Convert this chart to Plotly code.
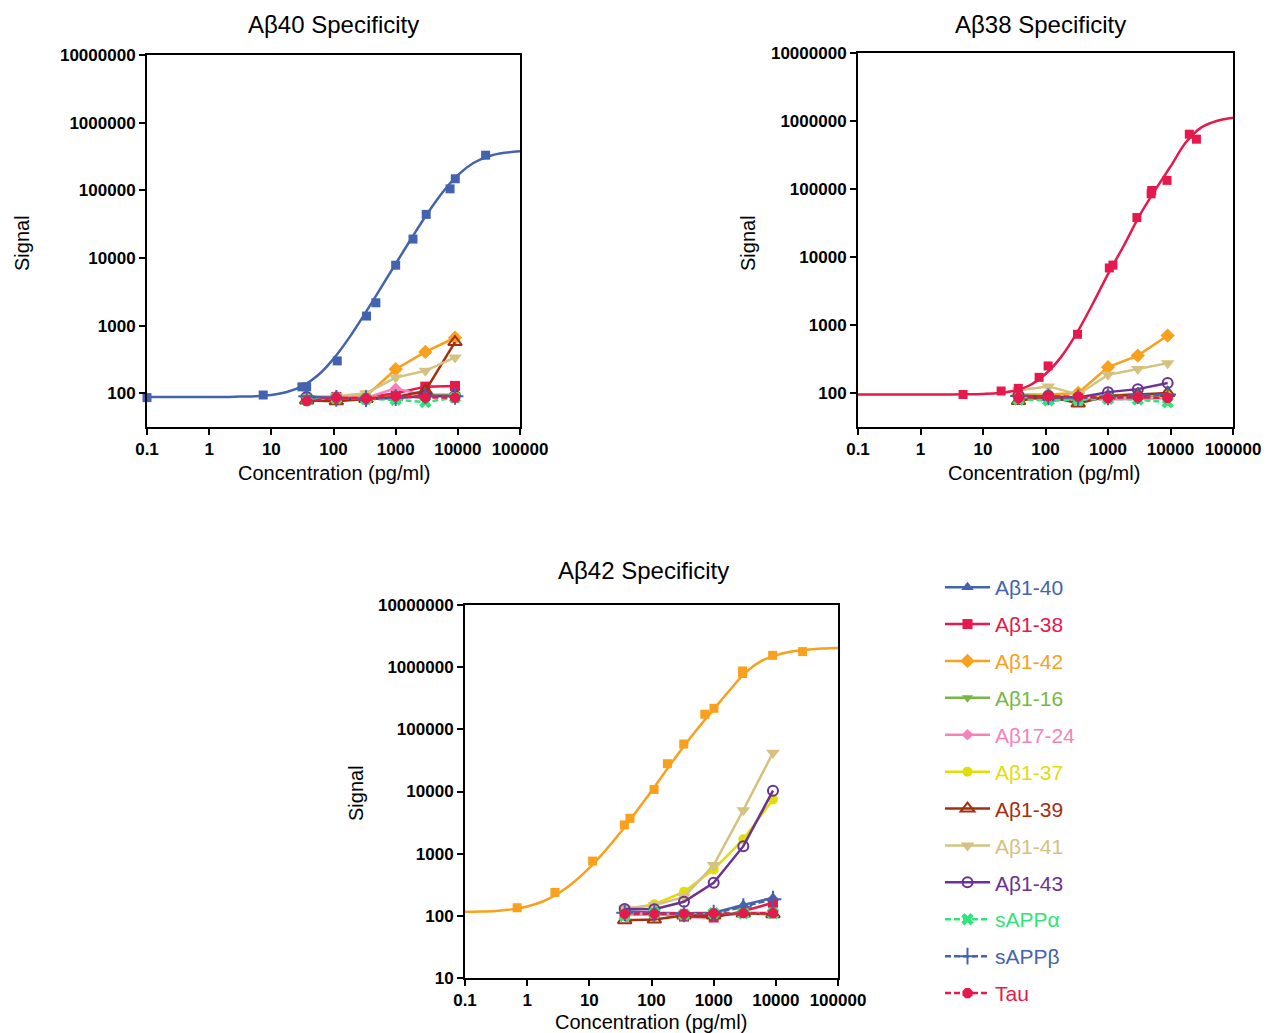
import plotly.graph_objects as go

FONT = "Liberation Sans, Arial, Helvetica, sans-serif"
W, H = 1266, 1033

# ---------------------------------------------------------------- data
# Concentrations (pg/ml) at which every non-target peptide was tested
cross_conc = [37, 111, 333, 1000, 3000, 9000]

# Grid used for the fitted standard curves (pg/ml)
curve_conc = [0.1, 0.178, 0.316, 0.562, 1, 1.78, 3.16, 5.62, 10, 17.8, 31.6, 56.2,
              100, 178, 316, 562, 1000, 1778, 3162, 5623, 10000, 17783, 31623, 56234, 100000]

# --- Aβ40 assay
ab40_std_conc = [0.1, 7.4, 31, 37, 115, 340, 480, 1000, 1900, 3100, 7500, 9100, 28000]
ab40_std_signal = [86, 94, 124, 124, 300, 1380, 2170, 7800, 19000, 44000, 105000, 148000, 330000]
ab40_fit = [88, 88, 88, 88, 88, 88, 89, 90, 94, 104, 127, 184, 322, 657, 1470, 3450, 8190,
            19200, 43800, 92000, 167600, 252700, 319000, 357400, 376000]
ab40_cross = {
    "Aβ1-38": [84, 88, 86, 100, 125, 128],
    "Aβ1-42": [88, 88, 90, 226, 407, 660],
    "Aβ1-16": [84, 85, 84, 88, 95, 95],
    "Aβ17-24": [86, 88, 85, 118, 92, 90],
    "Aβ1-37": [76, 80, 83, 88, 90, 92],
    "Aβ1-39": [78, 76, 82, 88, 108, 570],
    "Aβ1-41": [88, 90, 100, 170, 214, 338],
    "Aβ1-43": [88, 85, 82, 85, 90, 92],
    "sAPPα": [80, 84, 82, 80, 74, 86],
    "sAPPβ": [90, 84, 83, 86, 92, 90],
    "Tau": [76, 86, 84, 90, 86, 86],
}

# --- Aβ38 assay
ab38_std_conc = [4.8, 19.5, 36.7, 79, 110, 325, 1050, 1200, 2900, 4900, 5000, 8800, 20000, 26000]
ab38_std_signal = [95, 107, 117, 170, 250, 730, 6900, 7600, 38000, 85000, 95000, 134000, 640000, 540000]
ab38_fit = [95, 95, 95, 95, 95, 95, 95, 95.5, 97, 100, 108, 130, 190, 340, 760, 2000, 5600,
            14500, 40000, 95000, 214000, 490000, 813000, 1010000, 1120000]
ab38_cross = {
    "Aβ1-40": [95, 76, 85, 92, 95, 95],
    "Aβ1-42": [95, 95, 100, 240, 355, 700],
    "Aβ1-16": [85, 88, 82, 88, 90, 92],
    "Aβ17-24": [88, 85, 82, 80, 82, 84],
    "Aβ1-37": [95, 90, 85, 90, 95, 96],
    "Aβ1-39": [76, 90, 70, 90, 95, 100],
    "Aβ1-41": [110, 125, 95, 185, 225, 275],
    "Aβ1-43": [92, 90, 86, 103, 114, 140],
    "sAPPα": [80, 78, 80, 82, 80, 73],
    "sAPPβ": [90, 88, 85, 88, 92, 95],
    "Tau": [85, 90, 88, 85, 86, 85],
}

# --- Aβ42 assay
ab42_std_conc = [0.69, 2.8, 11.3, 36.6, 45, 110, 180, 330, 720, 1010, 2930, 2930, 8900, 27000]
ab42_std_signal = [135, 238, 760, 2900, 3700, 10800, 28000, 58000, 175000, 218000, 790000, 870000,
                   1550000, 1780000]
ab42_fit = [116, 117, 120, 127, 141, 170, 229, 347, 589, 1100, 2190, 4680, 10200, 22900, 50100,
            105000, 209000, 417000, 794000, 1230000, 1550000, 1780000, 1910000, 2000000, 2040000]
ab42_cross = {
    "Aβ1-40": [118, 112, 110, 112, 150, 195],
    "Aβ1-38": [109, 109, 97, 94, 119, 162],
    "Aβ1-16": [105, 105, 102, 105, 110, 110],
    "Aβ17-24": [110, 108, 104, 104, 112, 112],
    "Aβ1-37": [126, 154, 243, 557, 1700, 7460],
    "Aβ1-39": [85, 87, 101, 101, 109, 106],
    "Aβ1-41": [131, 148, 202, 655, 5000, 42200],
    "Aβ1-43": [129, 128, 168, 340, 1320, 10300],
    "sAPPα": [100, 110, 105, 110, 110, 110],
    "sAPPβ": [112, 110, 108, 110, 140, 185],
    "Tau": [108, 108, 108, 110, 110, 110],
}

x_tickvals = [0.1, 1, 10, 100, 1000, 10000, 100000]
x_ticktext = ["0.1", "1", "10", "100", "1000", "10000", "100000"]
y_tickvals = [10, 100, 1000, 10000, 100000, 1000000, 10000000]
y_ticktext = ["10", "100", "1000", "10000", "100000", "1000000", "10000000"]

# ---------------------------------------------------------------- styles
analytes = ["Aβ1-40", "Aβ1-38", "Aβ1-42", "Aβ1-16", "Aβ17-24", "Aβ1-37",
            "Aβ1-39", "Aβ1-41", "Aβ1-43", "sAPPα", "sAPPβ", "Tau"]
style = {
    "Aβ1-40": dict(color="#4463AE", symbol="triangle-up", size=11, dash="solid"),
    "Aβ1-38": dict(color="#E5194C", symbol="square", size=10, dash="solid"),
    "Aβ1-42": dict(color="#F9A01C", symbol="diamond", size=11, dash="solid"),
    "Aβ1-16": dict(color="#74B843", symbol="triangle-down", size=10, dash="solid"),
    "Aβ17-24": dict(color="#F583B9", symbol="diamond", size=9, dash="solid"),
    "Aβ1-37": dict(color="#E1DD0B", symbol="circle", size=10, dash="solid"),
    "Aβ1-39": dict(color="#A42E10", symbol="triangle-up-open", size=12, dash="solid"),
    "Aβ1-41": dict(color="#D5C281", symbol="triangle-down", size=12, dash="solid"),
    "Aβ1-43": dict(color="#6B3291", symbol="circle-open", size=10, dash="solid"),
    "sAPPα": dict(color="#2FE47A", symbol="x", size=11, dash="6px,3px"),
    "sAPPβ": dict(color="#4463AE", symbol="cross-thin-open", size=12, dash="6px,3px"),
    "Tau": dict(color="#E5194C", symbol="octagon", size=11, dash="6px,3px"),
}

panels = [
    dict(x="x", y="y", title="Aβ40 Specificity", target="Aβ1-40",
         std_x=ab40_std_conc, std_y=ab40_std_signal, fit=ab40_fit, cross=ab40_cross),
    dict(x="x2", y="y2", title="Aβ38 Specificity", target="Aβ1-38",
         std_x=ab38_std_conc, std_y=ab38_std_signal, fit=ab38_fit, cross=ab38_cross),
    dict(x="x3", y="y3", title="Aβ42 Specificity", target="Aβ1-42",
         std_x=ab42_std_conc, std_y=ab42_std_signal, fit=ab42_fit, cross=ab42_cross),
]

fig = go.Figure()
in_legend = set()

for p in panels:
    # non-target peptides: connected points
    for name in analytes:
        if name not in p["cross"]:
            continue
        s = style[name]
        show = name not in in_legend
        in_legend.add(name)
        open_sym = s["symbol"].endswith("open")
        fig.add_trace(go.Scatter(
            x=cross_conc, y=p["cross"][name], xaxis=p["x"], yaxis=p["y"],
            mode="lines+markers",
            name=f"<span style='color:{s['color']}'>{name}</span>",
            legendgroup=name, showlegend=show, legendrank=analytes.index(name) + 1,
            line=dict(color=s["color"], width=2.5, dash=s["dash"]),
            marker=dict(symbol=s["symbol"], size=s["size"], color=s["color"],
                        line=dict(color=s["color"], width=2 if open_sym else 0)),
            cliponaxis=False,
        ))
    # target peptide: fitted standard curve + measured standards
    c = style[p["target"]]["color"]
    fig.add_trace(go.Scatter(
        x=curve_conc, y=p["fit"], xaxis=p["x"], yaxis=p["y"], mode="lines",
        line=dict(color=c, width=2.5, shape="spline", smoothing=1.0),
        showlegend=False, hoverinfo="skip",
    ))
    fig.add_trace(go.Scatter(
        x=p["std_x"], y=p["std_y"], xaxis=p["x"], yaxis=p["y"], mode="markers",
        marker=dict(symbol="square", size=9, color=c),
        showlegend=False, cliponaxis=False,
    ))


def px_x(px):
    return px / W


def px_y(py):
    return 1 - py / H


def log_axis(dom, anchor, rng, vals, text):
    return dict(
        type="log", domain=dom, anchor=anchor, range=rng, automargin=False,
        tickvals=vals, ticktext=text,
        showline=True, linecolor="black", linewidth=2, mirror=True,
        ticks="outside", ticklen=6, tickwidth=2, tickcolor="black",
        showgrid=False, zeroline=False,
        tickfont=dict(family=FONT, size=17, color="black", weight="bold"),
    )


# panel frames in pixels: (left, right, top, bottom)
frames = [(147, 520, 55, 427), (858, 1233, 53, 427), (465, 838, 605, 978)]
y_ranges = [[1.5, 7], [1.5, 7], [1, 7]]
layout_axes = {}
for i, ((l, r, t, b), yr) in enumerate(zip(frames, y_ranges), start=1):
    suffix = "" if i == 1 else str(i)
    layout_axes["xaxis" + suffix] = log_axis([px_x(l), px_x(r)], "y" + suffix, [-1, 5],
                                             x_tickvals, x_ticktext)
    layout_axes["yaxis" + suffix] = log_axis([px_y(b), px_y(t)], "x" + suffix, yr,
                                             y_tickvals, y_ticktext)

annotations = []
titles_pos = [(333, 24), (1040, 24), (643, 570)]
signal_pos = [(22, 243), (748, 243), (356, 793)]
conc_pos = [(334, 473), (1044, 473), (651, 1022)]
for p, (tx, ty), (sx, sy), (cx, cy) in zip(panels, titles_pos, signal_pos, conc_pos):
    annotations.append(dict(text=p["title"], x=px_x(tx), y=px_y(ty), xref="paper", yref="paper",
                            showarrow=False, xanchor="center", yanchor="middle",
                            font=dict(family=FONT, size=24, color="black")))
    annotations.append(dict(text="Signal", x=px_x(sx), y=px_y(sy), xref="paper", yref="paper",
                            showarrow=False, xanchor="center", yanchor="middle", textangle=-90,
                            font=dict(family=FONT, size=20, color="black")))
    annotations.append(dict(text="Concentration (pg/ml)", x=px_x(cx), y=px_y(cy),
                            xref="paper", yref="paper", showarrow=False,
                            xanchor="center", yanchor="middle",
                            font=dict(family=FONT, size=20, color="black")))

fig.update_layout(
    width=W, height=H,
    margin=dict(l=0, r=0, t=0, b=0),
    paper_bgcolor="white", plot_bgcolor="white",
    showlegend=True,
    legend=dict(x=px_x(940), y=px_y(567), xanchor="left", yanchor="top",
                font=dict(family=FONT, size=21), itemwidth=45,
                traceorder="grouped", tracegroupgap=6.6,
                bgcolor="rgba(0,0,0,0)", borderwidth=0),
    annotations=annotations,
    **layout_axes,
)

fig.write_html("out.html")
